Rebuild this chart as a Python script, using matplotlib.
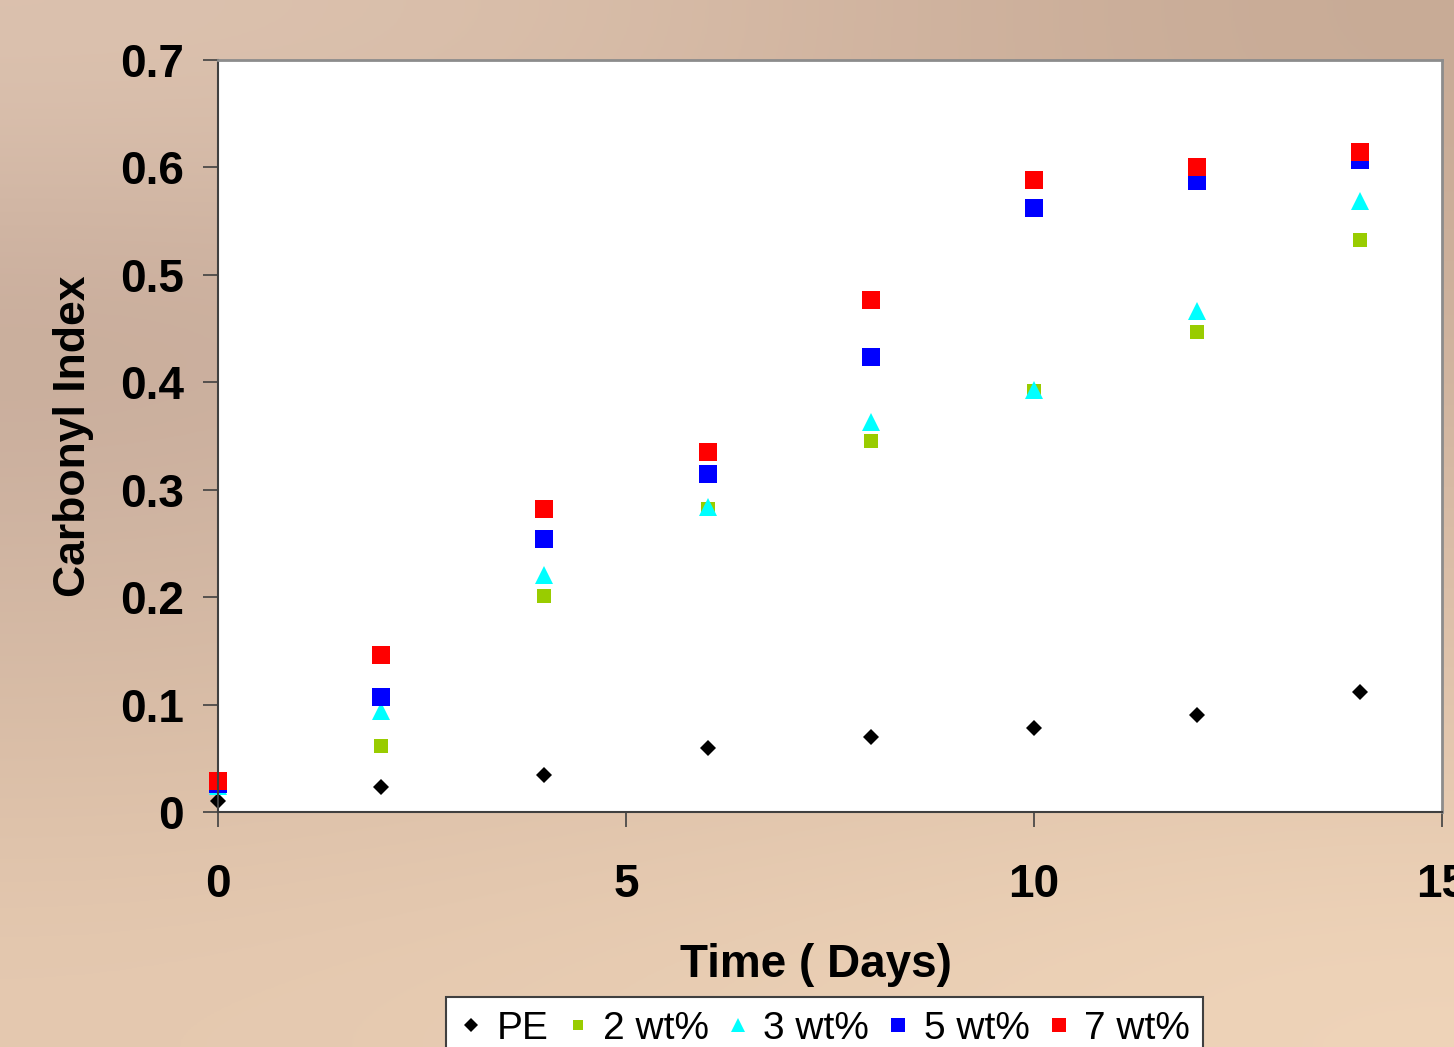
import numpy as np
import matplotlib.pyplot as plt
from matplotlib.colors import to_rgb

plt.rcParams['font.family'] = ['Liberation Sans', 'DejaVu Sans']

# carbonyl index vs exposure time
days = [0, 2, 4, 6, 8, 10, 12, 14]
pe = [0.010, 0.023, 0.034, 0.060, 0.070, 0.078, 0.090, 0.112]
wt2 = [0.022, 0.061, 0.201, 0.282, 0.345, 0.392, 0.447, 0.532]
wt3 = [0.024, 0.094, 0.221, 0.284, 0.363, 0.393, 0.466, 0.569]
wt5 = [0.026, 0.107, 0.254, 0.315, 0.424, 0.562, 0.587, 0.607]
wt7 = [0.029, 0.146, 0.282, 0.335, 0.477, 0.588, 0.600, 0.614]

labels = ['PE', '2 wt%', '3 wt%', '5 wt%', '7 wt%']
xticks = [0, 5, 10, 15]
yticks = [0, 0.1, 0.2, 0.3, 0.4, 0.5, 0.6, 0.7]
ytick_labels = ['0', '0.1', '0.2', '0.3', '0.4', '0.5', '0.6', '0.7']

fig = plt.figure(figsize=(14.54, 10.47), dpi=100)

# tan slide background
bg_rows = [
    ['#dcc2af', '#dabfaa', '#d0b39f', '#c8ab96'],
    ['#c6aa99', '#ccb09e', '#cfb39f', '#cdb19c'],
    ['#cfb4a2', '#d3b8a4', '#d6baa5', '#d8bca6'],
    ['#d9bda6', '#dcc0a9', '#dfc3ab', '#e2c6ad'],
    ['#e5c9b0', '#e8ccb2', '#ebd0b5', '#efd4b9'],
]
bg = np.array([[to_rgb(c) for c in row] for row in bg_rows])
bg_ax = fig.add_axes([0, 0, 1, 1], zorder=-1)
bg_ax.imshow(bg, aspect='auto', interpolation='bicubic', extent=[0, 1, 0, 1])
bg_ax.axis('off')

ax = fig.add_axes([218 / 1454, 1 - 812 / 1047, 1224 / 1454, 752 / 1047])
ax.set_facecolor('white')

ax.plot(days, pe, 'D', color='black', markersize=8.5, markeredgewidth=0, label=labels[0], clip_on=False)
ax.plot(days, wt2, 's', color='#99cc00', markersize=10.5, markeredgewidth=0, label=labels[1], clip_on=False)
ax.plot(days, wt3, '^', color='#00ffff', markersize=12.5, markeredgewidth=0, label=labels[2], clip_on=False)
ax.plot(days, wt5, 's', color='#0000ff', markersize=13, markeredgewidth=0, label=labels[3], clip_on=False)
ax.plot(days, wt7, 's', color='#ff0000', markersize=13, markeredgewidth=0, label=labels[4], clip_on=False)

ax.set_xlim(0, 15)
ax.set_ylim(0, 0.7)
ax.set_xticks(xticks)
ax.set_yticks(yticks)
ax.set_yticklabels(ytick_labels)

for side in ['left', 'bottom']:
    ax.spines[side].set_color('#404040')
    ax.spines[side].set_linewidth(1.5)
for side in ['top', 'right']:
    ax.spines[side].set_color('#8c8c8c')
    ax.spines[side].set_linewidth(2)

ax.tick_params(axis='both', direction='out', color='#404040', width=1.2, length=10.5,
               labelsize=33)
ax.tick_params(axis='y', pad=14)
ax.tick_params(axis='x', pad=26)
for lab in ax.get_xticklabels() + ax.get_yticklabels():
    lab.set_fontweight('bold')

ax.set_xlabel('Time ( Days)', fontsize=33, fontweight='bold', labelpad=26)
ax.xaxis.label.set_x(0.4886)
ax.set_ylabel('Carbonyl Index', fontsize=32, fontweight='bold', labelpad=19)

leg = fig.legend(loc='upper left', bbox_to_anchor=(446 / 1454, 1 - 997 / 1047),
                 ncol=5, fontsize=28, frameon=True, fancybox=False, borderpad=0.35,
                 handlelength=0.6, handletextpad=0.35, columnspacing=0.45,
                 borderaxespad=0)
for handle, size in zip(leg.legend_handles, [7, 7.5, 9.5, 10, 10]):
    handle.set_markersize(size)
leg.get_frame().set_edgecolor('#404040')
leg.get_frame().set_linewidth(1.5)
leg.get_frame().set_facecolor('white')
leg.get_frame().set_alpha(1)

fig.savefig('out.png', dpi=100)
